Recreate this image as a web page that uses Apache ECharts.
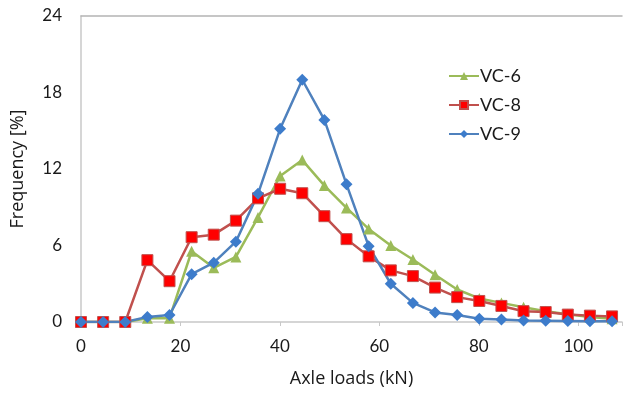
<!DOCTYPE html>
<html><head><meta charset="utf-8">
<script src="https://cdn.jsdelivr.net/npm/echarts@6/dist/echarts.min.js"></script>
<style>html,body{margin:0;padding:0;background:#fff}#c{width:625px;height:393px}</style>
</head><body><div id="c"></div>
<script>
const axleLoads = [0, 4.45, 8.9, 13.35, 17.8, 22.25, 26.7, 31.15, 35.6, 40.05, 44.5, 48.95, 53.4, 57.85, 62.3, 66.75, 71.2, 75.65, 80.1, 84.55, 89, 93.45, 97.9, 102.35, 106.8];
const vc6 = [0, 0, 0, 0.3, 0.3, 5.55, 4.25, 5.1, 8.2, 11.45, 12.7, 10.7, 8.95, 7.3, 6.0, 4.9, 3.7, 2.55, 1.85, 1.5, 1.15, 0.85, 0.6, 0.4, 0.25];
const vc8 = [0, 0, 0, 4.85, 3.2, 6.65, 6.85, 7.95, 9.7, 10.45, 10.1, 8.3, 6.5, 5.15, 4.05, 3.6, 2.7, 1.95, 1.65, 1.26, 0.85, 0.78, 0.58, 0.5, 0.44];
const vc9 = [0, 0, 0, 0.4, 0.55, 3.75, 4.65, 6.3, 10.05, 15.15, 19.0, 15.85, 10.8, 5.95, 3.0, 1.5, 0.75, 0.55, 0.25, 0.2, 0.12, 0.1, 0.08, 0.05, 0.05];
const seriesNames = ['VC-6', 'VC-8', 'VC-9'];
const yTicks = [0, 6, 12, 18, 24];
const xTicks = [0, 20, 40, 60, 80, 100];

const pair = (ys) => axleLoads.map((x, i) => [x, ys[i]]);
const font = 'Lato, "Open Sans", "Liberation Sans", sans-serif';
const titleFont = '"Open Sans", Lato, sans-serif';
const chart = echarts.init(document.getElementById('c'), null, {renderer: 'canvas'});
chart.setOption({
  animation: false,
  textStyle: {fontFamily: font},
  grid: {left: 81, right: 0, top: 16, bottom: 65, containLabel: false},
  legend: {
    data: seriesNames,
    orient: 'vertical',
    left: 443, top: 62,
    itemWidth: 30, itemHeight: 10, itemGap: 11,
    textStyle: {fontSize: 18, color: '#1a1a1a', fontFamily: font, padding: [0, 0, 0, -4]}
  },
  xAxis: [{
    type: 'value', min: 0, max: 108.8, interval: 20,
    name: 'Axle loads (kN)', nameLocation: 'middle', nameGap: 48,
    nameTextStyle: {fontSize: 18, color: '#1a1a1a', fontFamily: titleFont},
    axisLine: {lineStyle: {color: '#c8c8c8', width: 1.5}},
    axisTick: {show: true, length: 4, inside: false, lineStyle: {color: '#c8c8c8'}},
    axisLabel: {fontSize: 17, color: '#1a1a1a', margin: 16, fontFamily: font,
      formatter: v => xTicks.includes(v) ? String(v) : ''},
    splitLine: {show: false}
  }, {
    type: 'value', position: 'top', min: 0, max: 108.8,
    axisLine: {show: true, lineStyle: {color: '#b4b4b4', width: 1.5}},
    axisTick: {show: false}, axisLabel: {show: false}, splitLine: {show: false}
  }],
  yAxis: {
    type: 'value', min: 0, max: 24, interval: 6,
    name: 'Frequency [%]', nameLocation: 'middle', nameGap: 54,
    nameTextStyle: {fontSize: 18, color: '#1a1a1a', fontFamily: titleFont},
    axisLine: {show: true, lineStyle: {color: '#c8c8c8', width: 1.5}},
    axisTick: {show: false},
    axisLabel: {fontSize: 17, color: '#1a1a1a', margin: 19, fontFamily: font,
      formatter: v => yTicks.includes(v) ? String(v) : ''},
    splitLine: {show: false}
  },
  series: [
    {name: 'VC-6', type: 'line', data: pair(vc6), symbol: 'triangle', symbolSize: 11,
      lineStyle: {color: '#9BBB59', width: 2.5}, itemStyle: {color: '#9BBB59'}},
    {name: 'VC-8', type: 'line', data: pair(vc8), symbol: 'rect', symbolSize: 11,
      lineStyle: {color: '#C0504D', width: 2.5}, itemStyle: {color: '#FF0000', borderColor: '#C0504D', borderWidth: 1}},
    {name: 'VC-9', type: 'line', data: pair(vc9), symbol: 'diamond', symbolSize: 12,
      lineStyle: {color: '#4F81BD', width: 2.5}, itemStyle: {color: '#3D7CCB'}}
  ]
});
</script></body></html>
